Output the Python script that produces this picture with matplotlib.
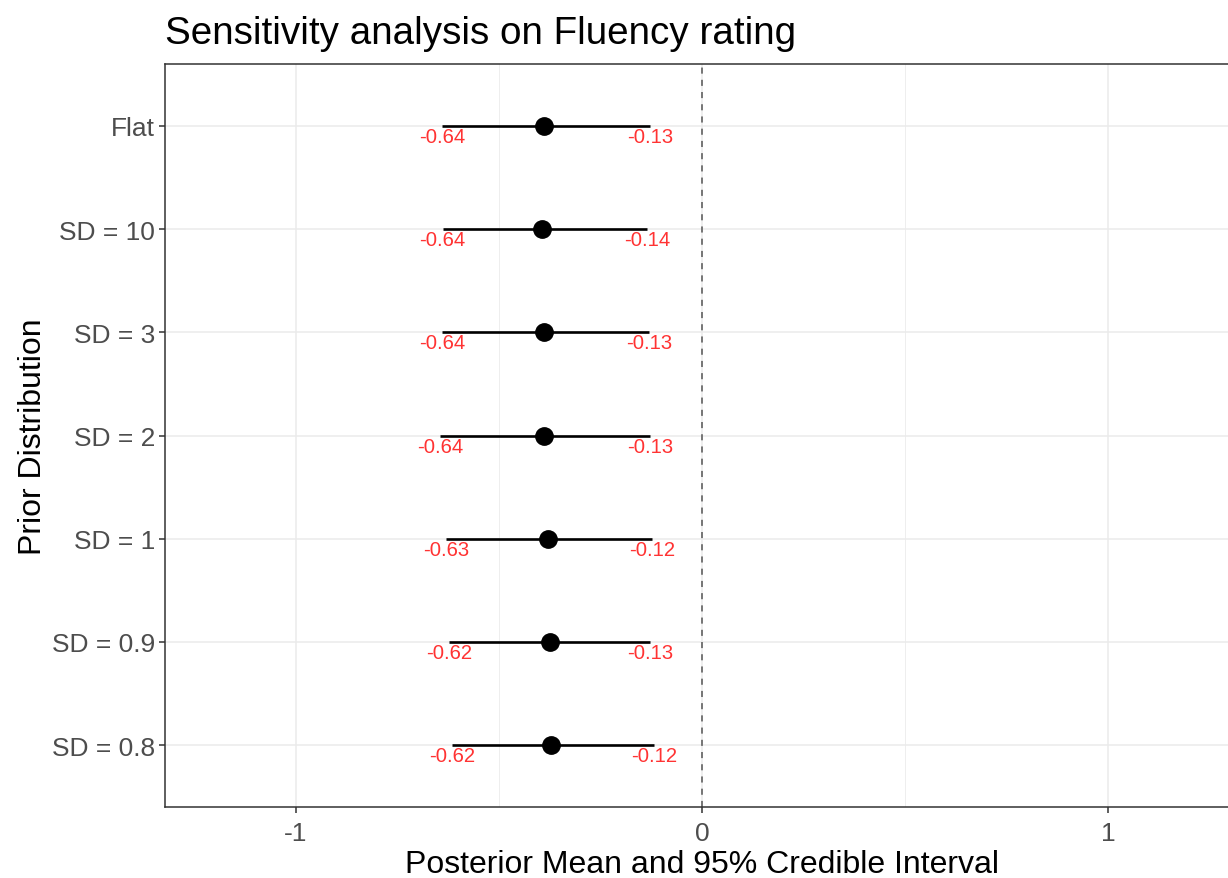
import matplotlib
matplotlib.use("Agg")
import matplotlib.pyplot as plt
import numpy as np

plt.rcParams['font.family'] = ['Liberation Sans', 'DejaVu Sans']

priors = ["Flat", "SD = 10", "SD = 3", "SD = 2", "SD = 1", "SD = 0.9", "SD = 0.8"]
means = [-0.389, -0.394, -0.389, -0.390, -0.379, -0.374, -0.371]
lower = [-0.640, -0.639, -0.640, -0.645, -0.630, -0.623, -0.616]
upper = [-0.128, -0.136, -0.130, -0.128, -0.122, -0.128, -0.118]
lower_labels = ["-0.64", "-0.64", "-0.64", "-0.64", "-0.63", "-0.62", "-0.62"]
upper_labels = ["-0.13", "-0.14", "-0.13", "-0.13", "-0.12", "-0.13", "-0.12"]
xticks = [-1, 0, 1]
xtick_labels = ["-1", "0", "1"]

W, H = 1228, 879
fig = plt.figure(figsize=(W / 100, H / 100), dpi=100)
left, right, top, bottom = 165, 1239, 65, 808
ax = fig.add_axes([left / W, 1 - bottom / H, (right - left) / W, (bottom - top) / H])

n = len(priors)
ypos = np.arange(n)[::-1] + 1  # Flat at top

ax.set_xlim(-1.3227, 1.3227)
ax.set_ylim(0.4, n + 0.6)

# grid
ax.set_xticks(xticks)
ax.set_xticklabels(xtick_labels)
ax.set_xticks([-0.5, 0.5], minor=True)
ax.set_yticks(ypos)
ax.set_yticklabels(priors)
ax.grid(True, which='major', color='#EBEBEB', linewidth=1.1)
ax.grid(True, which='minor', axis='x', color='#EBEBEB', linewidth=0.6)
ax.set_axisbelow(True)

ax.axvline(0, color='#555555', linestyle=(0, (4, 4)), linewidth=1.1, zorder=2)

for y, m, lo, hi, ll, ul in zip(ypos, means, lower, upper, lower_labels, upper_labels):
    ax.plot([lo, hi], [y, y], color='black', linewidth=1.9, solid_capstyle='butt', zorder=3)
    ax.plot([m], [y], 'o', color='black', markersize=12.5, zorder=4)
    ax.text(lo, y - 0.01, ll, color='#FF3333', fontsize=14.6, ha='center', va='top', zorder=5)
    ax.text(hi, y - 0.01, ul, color='#FF3333', fontsize=14.6, ha='center', va='top', zorder=5)

for s in ax.spines.values():
    s.set_color('#333333')
    s.set_linewidth(1.1)

ax.tick_params(axis='both', which='major', length=4, width=1.1, color='#333333',
               labelcolor='#4D4D4D', labelsize=19, pad=3)
ax.tick_params(axis='x', which='major', pad=6)
ax.tick_params(axis='x', which='minor', length=0)

ax.set_xlabel("Posterior Mean and 95% Credible Interval", fontsize=23, color='black', labelpad=3)
ax.set_ylabel("Prior Distribution", fontsize=23, color='black', labelpad=3)
fig.text(left / W, 1 - 34 / H, "Sensitivity analysis on Fluency rating", fontsize=27.8,
         ha='left', va='center', color='black')

fig.savefig("out.png", dpi=100)
